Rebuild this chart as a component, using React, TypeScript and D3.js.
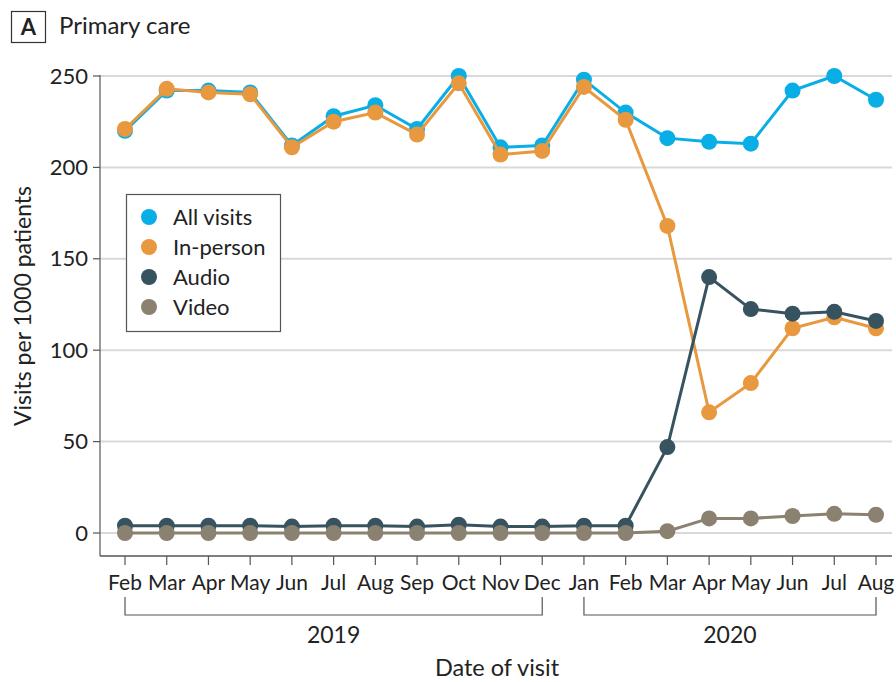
import React from "react";
import * as d3 from "d3";

const months = ["Feb","Mar","Apr","May","Jun","Jul","Aug","Sep","Oct","Nov","Dec","Jan","Feb","Mar","Apr","May","Jun","Jul","Aug"];
const allVisits = [220,242,242,241,212,228,234,221,250,211,212,248,230,216,214,213,242,250,237];
const inPerson = [221,243,241,240,211,225,230,218,246,207,209,244,226,168,66,82,112,118,112];
const audio = [4,4,4,4,3.5,4,4,3.5,4.5,3.5,3.5,4,4,47,140,122.5,120,121,116];
const video = [0,0,0,0,0,0,0,0,0,0,0,0,0,1,8,8,9.3,10.5,10];
const yTicks = [0,50,100,150,200,250];
const years = [{label:"2019", from:0, to:10},{label:"2020", from:11, to:18}];

const seriesNames = ["All visits","In-person","Audio","Video"];
const seriesColors = ["#0AAEE6","#E8983E","#36535F","#8A8171"];

const FONT = "Lato, 'Open Sans', sans-serif";

export default function App() {
  const W = 896, H = 682;
  const x = d3.scaleLinear().domain([0, 18]).range([125, 876]);
  const y = d3.scaleLinear().domain([0, 250]).range([533, 76]);
  const line = d3.line<number>().x((_, i) => x(i)).y(d => y(d));
  const drawOrder = [
    { data: allVisits, color: seriesColors[0] },
    { data: inPerson, color: seriesColors[1] },
    { data: audio, color: seriesColors[2] },
    { data: video, color: seriesColors[3] },
  ];
  const axisY = 556;
  return (
    <svg width={W} height={H} style={{ position: "absolute", left: 0, top: 0 }} fontFamily={FONT}>
      <rect x={0} y={0} width={W} height={H} fill="#fff" />
      {/* title */}
      <rect x={11.5} y={11.5} width={34} height={31} fill="none" stroke="#333" strokeWidth={1.2} />
      <text x={28.5} y={35} textAnchor="middle" fontSize={22} fontWeight="bold" fill="#222">A</text>
      <text x={59} y={34} fontSize={24} fill="#222">Primary care</text>

      {/* gridlines */}
      {yTicks.map(t => (
        <line key={"g" + t} x1={100} x2={892} y1={y(t)} y2={y(t)} stroke="#d9d9d9" strokeWidth={2} />
      ))}
      {/* y axis */}
      <line x1={100} x2={100} y1={y(250) - 1} y2={axisY} stroke="#777" strokeWidth={1.5} />
      {yTicks.map(t => (
        <g key={"yt" + t}>
          <line x1={93} x2={100} y1={y(t)} y2={y(t)} stroke="#555" strokeWidth={1.2} />
          <text x={88} y={y(t) + 7.5} textAnchor="end" fontSize={22} fill="#222">{t}</text>
        </g>
      ))}
      <text transform={`translate(31,${306}) rotate(-90)`} textAnchor="middle" fontSize={23} fill="#222">Visits per 1000 patients</text>

      {/* x axis */}
      <line x1={100} x2={892} y1={axisY} y2={axisY} stroke="#555" strokeWidth={1.5} />
      {months.map((m, i) => (
        <g key={"xt" + i}>
          <line x1={x(i)} x2={x(i)} y1={axisY} y2={axisY + 9} stroke="#555" strokeWidth={1.2} />
          <text x={x(i)} y={590} textAnchor="middle" fontSize={21} fill="#222">{m}</text>
        </g>
      ))}
      {years.map(yr => (
        <g key={yr.label}>
          <path d={`M${x(yr.from)},597V615H${x(yr.to)}V597`} fill="none" stroke="#555" strokeWidth={1.2} />
          <text x={(x(yr.from) + x(yr.to)) / 2} y={643} textAnchor="middle" fontSize={23} fill="#222">{yr.label}</text>
        </g>
      ))}
      <text x={497} y={676} textAnchor="middle" fontSize={23.5} fill="#222">Date of visit</text>

      {/* series */}
      {drawOrder.map((s, k) => (
        <g key={"s" + k}>
          <path d={line(s.data) || ""} fill="none" stroke={s.color} strokeWidth={3} />
          {s.data.map((v, i) => (
            <circle key={i} cx={x(i)} cy={y(v)} r={8} fill={s.color} />
          ))}
        </g>
      ))}

      {/* legend */}
      <rect x={126.5} y={194.5} width={154} height={137} fill="#fff" stroke="#555" strokeWidth={1.2} />
      {seriesNames.map((n, i) => (
        <g key={n}>
          <circle cx={149} cy={217 + i * 30} r={8} fill={seriesColors[i]} />
          <text x={173} y={224.5 + i * 30} fontSize={22} fill="#222">{n}</text>
        </g>
      ))}
    </svg>
  );
}
